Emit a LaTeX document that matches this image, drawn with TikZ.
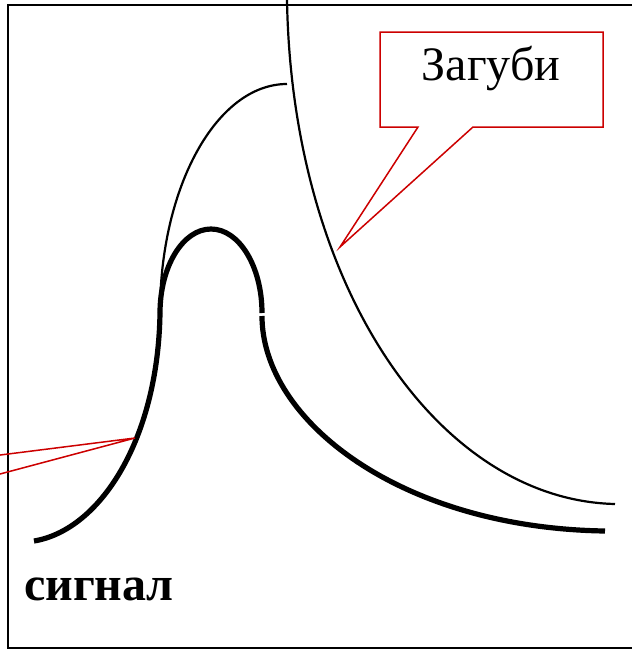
\documentclass[tikz,border=0pt]{standalone}
\usepackage{fontspec}
\setmainfont{Liberation Serif}
\definecolor{callred}{RGB}{204,0,0}
\begin{document}
\begin{tikzpicture}[x=1pt,y=-1pt,
  thickcurve/.style={line width=5.2pt},
  thincurve/.style={line width=2.2pt},
  frameline/.style={line width=2pt},
  callout/.style={draw=callred,line width=1.5pt,fill=white,line join=miter}]
\useasboundingbox (0,0) rectangle (632,649);
\clip (0,0) rectangle (632,649);
% frame
\draw[frameline] (660,4.5) -- (8,4.5) -- (8,648) -- (660,648);
% thin decay curve
\coordinate (tda) at (287,0);
\coordinate (tdb) at (615,504);
\draw[thincurve] (tda) .. controls (292,290) and (440,500) .. (tdb);
% thin rising (quarter ellipse)
\coordinate (trs) at (160,313);
\draw[thincurve] (trs) arc[start angle=180,end angle=90,x radius=127,y radius=-229];
% thick rising
\coordinate (sa) at (34,541);
\coordinate (sb) at (160,313);
\draw[thickcurve] (sa) .. controls (100,530) and (158,440) .. (sb);
% thick peak
\draw[thickcurve] (sb) arc[start angle=180,end angle=0,x radius=51,y radius=-84];
% thick decay
\coordinate (da) at (262,316);
\coordinate (db) at (605,531);
\draw[thickcurve] (da) .. controls (262,420) and (400,528) .. (db);
% callout Загуби
\coordinate (ctip) at (340,247);
\draw[callout] (380,32) -- (603,32) -- (603,127) -- (473,127) -- (ctip) -- (418,127) -- (380,127) -- cycle;
\node[anchor=base,font=\fontsize{48}{48}\selectfont,inner sep=0] (zag) at (491,80) {Загуби};
% left callout pointer
\coordinate (ltip) at (135,438);
\draw[draw=callred,line width=1.5pt,line join=miter] (-60,462.6) -- (ltip) -- (-60,490);
% label
\node[anchor=base west,font=\fontsize{48}{48}\selectfont\bfseries,inner sep=0] (sig) at (24,600) {сигнал};
\end{tikzpicture}
\end{document}
